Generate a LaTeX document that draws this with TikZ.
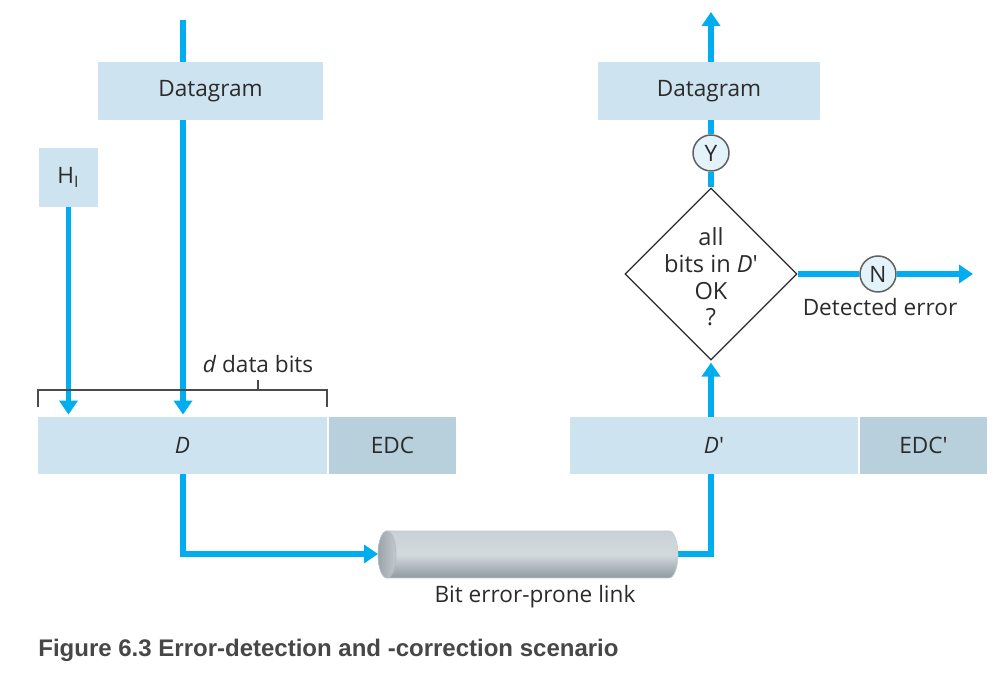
\documentclass[tikz,border=0pt]{standalone}
\usepackage{fontspec}
\setmainfont{Open Sans}
\newfontfamily\capfont{Liberation Sans}
\usetikzlibrary{arrows.meta,shapes.geometric,backgrounds}
\definecolor{flowblue}{HTML}{00AEEF}
\definecolor{boxblue}{HTML}{CDE4F0}
\definecolor{edcblue}{HTML}{B8D0DC}
\definecolor{txt}{HTML}{2B2B2B}
\definecolor{circfill}{HTML}{E4F3FA}
\definecolor{tubetop}{HTML}{C9D1D6}
\definecolor{tubemid}{HTML}{D3DADE}
\definecolor{tubebot}{HTML}{8F999F}
\definecolor{tubeedge}{HTML}{C3CACE}
\definecolor{faceleft}{HTML}{9AA3A8}
\definecolor{faceright}{HTML}{C3CACF}
\definecolor{faceedge}{HTML}{B4BCC1}
\tikzset{
  every node/.style={text=txt, font=\fontsize{11.3}{13}\selectfont},
  box/.style={fill=boxblue, inner sep=0pt},
  edcbox/.style={fill=edcblue, inner sep=0pt},
  flow/.style={draw=flowblue, line width=2.8pt},
  flowarrow/.style={flow, -{Triangle[length=7pt,width=9pt]}},
  yn/.style={circle, draw=txt!75, line width=0.75pt, fill=circfill, minimum size=18pt, inner sep=0pt},
  decision/.style={diamond, draw=txt, line width=0.6pt, fill=white, minimum width=86pt, minimum height=86pt, inner sep=0pt},
  bracket/.style={draw=txt!85, line width=0.6pt},
}
\begin{document}
\begin{tikzpicture}[x=0.5pt, y=-0.5pt]
\useasboundingbox (0,0) rectangle (1008,678);

% sender side
\node[box, minimum width=112.5pt, minimum height=29pt] (dgL) at (210.5,91) {Datagram};
\node[box, minimum width=29.5pt, minimum height=29.5pt] (hdr) at (68.5,177.5) {H\textsubscript{I}};
\node[box, minimum width=144.5pt, minimum height=28.5pt] (D) at (182.5,445.5) {\itshape D};
\node[edcbox, minimum width=63.5pt, minimum height=28.5pt] (edc) at (392.5,445.5) {EDC};

% receiver side
\node[box, minimum width=144pt, minimum height=28.5pt] (Dp) at (714,445.5) {\textit{D}\textquotesingle};
\node[edcbox, minimum width=63.5pt, minimum height=28.5pt] (edcp) at (923.5,445.5) {EDC\textquotesingle};
\node[box, minimum width=111pt, minimum height=29pt] (dgR) at (709,91) {Datagram};

% bracket over the data bits
\draw[bracket] (38,407) -- (38,390) -- (327,390) -- (327,407);
\draw[bracket] (258,390) -- (258,380);
\node (dbits) at (258,364) {\textit{d} data bits};

% the link: a shaded cylinder
\coordinate (linkL) at (378,554);
\coordinate (linkR) at (678,554);
\shade[top color=tubetop, bottom color=tubebot, middle color=tubemid, draw=tubeedge, line width=0.3pt]
  (387,531) -- (669,531) arc[start angle=-90, end angle=90, x radius=9, y radius=23.5] -- (387,578) -- cycle;
\shade[left color=faceleft, right color=faceright, draw=faceedge, line width=0.4pt]
  (387,554.5) ellipse[x radius=9, y radius=23.5];
\node (linklbl) at (535,597) {Bit error-prone link};

% decision and its outcomes
\node[decision] (chk) at (711,274) {};
\node[align=center, font=\fontsize{11.8}{13.4}\selectfont] (chktxt) at (711,277) {all\\bits in \textit{D}\textquotesingle\\OK\\?};
\node[yn] (Y) at (711,153) {Y};
\node[yn] (N) at (878,274) {N};
\node (detlbl) at (880,307) {Detected error};

% flows run behind the boxes
\begin{scope}[on background layer]
\fill[white] (0,0) rectangle (1008,678);
\coordinate (inL) at (183,20);
\draw[flowarrow, shorten >=1pt] (inL) -- (D.north -| inL);
\draw[flowarrow, shorten >=1pt] (hdr.south) -- (hdr.south |- D.north);
\draw[flowarrow] (D.south -| inL) |- (linkL);
\draw[flow] (linkR) -| (Dp.south -| chk);
\draw[flowarrow, shorten >=1pt] (Dp.north -| chk) -- (chk.south);
\draw[flow] (chk.north) -- (Y.south);
\coordinate (outR) at (711,12);
\draw[flowarrow] (Y.north) -- (outR);
\coordinate (errout) at (973,274);
\draw[flow] (chk.east) -- (N.west);
\draw[flowarrow] (N.east) -- (errout);
\end{scope}

% caption
\node[anchor=west, inner sep=0pt, font=\capfont\bfseries\fontsize{12}{14}\selectfont, text=black!72] (cap) at (38,650) {Figure 6.3 Error-detection and -correction scenario};
\end{tikzpicture}
\end{document}
